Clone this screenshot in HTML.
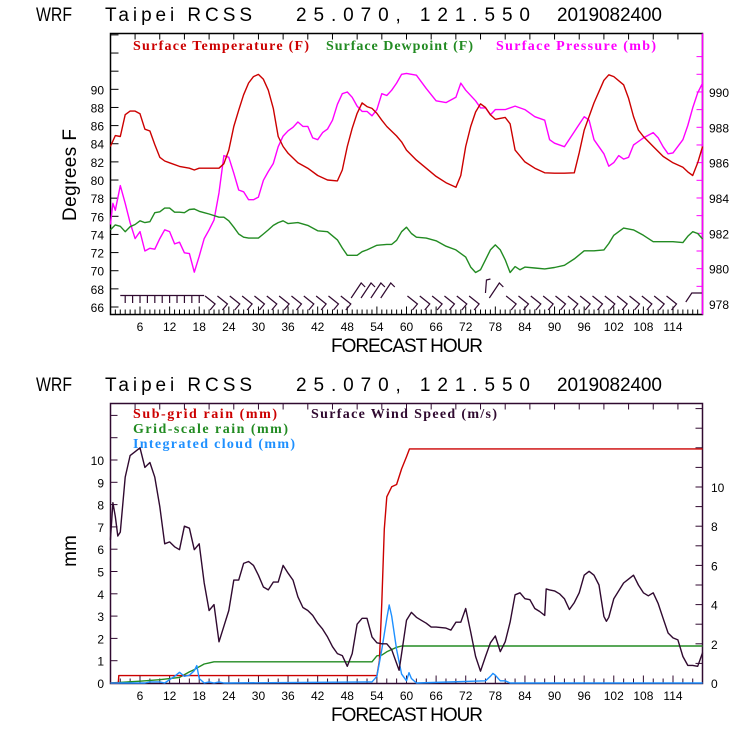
<!DOCTYPE html>
<html><head><meta charset="utf-8">
<style>
html,body{margin:0;padding:0;background:#fff;width:740px;height:740px;overflow:hidden}
svg{display:block}
.tk{font-family:"Liberation Sans",sans-serif;font-size:12px;fill:#000}
.ttl{font-family:"Liberation Sans",sans-serif;font-size:19px;fill:#000}
.lg{font-family:"Liberation Serif",serif;font-size:14px;font-weight:bold}
</style></head>
<body>
<svg id="chart" width="740" height="740" viewBox="0 0 740 740" xmlns="http://www.w3.org/2000/svg">
<text class="ttl" x="36" y="21" textLength="36" lengthAdjust="spacingAndGlyphs">WRF</text>
<text class="ttl" x="105" y="21" textLength="147">Taipei RCSS</text>
<text class="ttl" x="296" y="21" textLength="234">25.070, 121.550</text>
<text class="ttl" x="557" y="21" textLength="105">2019082400</text>
<text class="ttl" x="36" y="391" textLength="36" lengthAdjust="spacingAndGlyphs">WRF</text>
<text class="ttl" x="105" y="391" textLength="147">Taipei RCSS</text>
<text class="ttl" x="296" y="391" textLength="234">25.070, 121.550</text>
<text class="ttl" x="557" y="391" textLength="105">2019082400</text>
<text class="lg" x="133" y="50" fill="#cc0000" textLength="176">Surface Temperature (F)</text>
<text class="lg" x="326" y="50" fill="#228b22" textLength="147">Surface Dewpoint (F)</text>
<text class="lg" x="496" y="50" fill="#ff00ff" textLength="160">Surface Pressure (mb)</text>
<text class="lg" x="133" y="418" fill="#cc0000" textLength="144">Sub-grid rain (mm)</text>
<text class="lg" x="311" y="418" fill="#300a30" textLength="186">Surface Wind Speed (m/s)</text>
<text class="lg" x="133" y="433" fill="#228b22" textLength="155">Grid-scale rain (mm)</text>
<text class="lg" x="133" y="448" fill="#1e90ff" textLength="162">Integrated cloud (mm)</text>
<text class="ttl" x="407" y="352" text-anchor="middle" textLength="152">FORECAST HOUR</text>
<text class="ttl" x="407" y="721" text-anchor="middle" textLength="152">FORECAST HOUR</text>
<text class="ttl" transform="translate(76,175) rotate(-90)" text-anchor="middle" textLength="92">Degrees F</text>
<text class="ttl" transform="translate(76,551) rotate(-90)" text-anchor="middle">mm</text>
</svg>
<script>
// ---- data ----
const tempHours=[0,1,2,3,4,5,6,7,8,9,10,11,12,14,16,17,18,20,22,23,24,25,26,27,28,29,30,31,32,33,34,35,36,38,40,42,44,46,47,48,49,50,51,52,53,54,55,56,58,59,60,62,64,66,68,70,71,72,73,74,75,76,77,78,80,81,82,84,86,88,90,92,94,95,96,98,100,101,102,104,105,106,107,108,110,112,114,116,117,118,119,120];
const tempValues=[83.7,84.9,84.8,87.2,87.6,87.6,87.3,85.6,85.4,83.9,82.5,82.1,81.9,81.5,81.3,81.1,81.3,81.3,81.3,81.8,83.3,85.9,87.7,89.4,90.7,91.4,91.65,91.1,89.9,87.9,84.8,83.7,82.95,81.9,81.3,80.5,80.0,79.9,81.1,83.7,85.7,87.35,88.5,88.1,87.9,87.35,86.6,85.9,84.85,84.2,83.3,82.2,81.3,80.4,79.7,79.2,80.5,83.7,85.9,87.5,88.4,88.0,87.2,86.7,86.9,86.2,83.3,82.0,81.3,80.8,80.75,80.75,80.8,83.0,85.5,88.5,91.0,91.6,91.4,90.5,89.0,87.0,85.5,84.8,83.7,82.6,81.9,81.4,80.9,80.5,81.9,83.7];
const dewHours=[0,1,2,3,4,5,6,7,8,9,10,11,12,13,14,15,16,17,18,19,20,22,23,24,25,26,27,28,30,31,32,33,34,35,36,38,40,42,44,46,47,48,50,51,52,54,56,57,58,59,60,61,62,64,66,68,70,72,73,74,75,76,77,78,79,80,81,82,83,84,86,88,90,92,94,96,98,100,101,102,104,106,108,110,112,114,116,117,118,119,120];
const dewValues=[74.5,75.05,74.9,74.3,74.85,75.1,75.5,75.3,75.4,76.4,76.5,76.9,76.9,76.45,76.45,76.4,76.75,76.8,76.55,76.4,76.25,75.9,75.9,75.5,74.8,74.05,73.7,73.6,73.6,74.05,74.5,75.0,75.3,75.5,75.2,75.3,75.0,74.4,74.3,73.4,72.5,71.7,71.7,72.1,72.3,72.8,72.9,72.9,73.35,74.3,74.8,74.1,73.7,73.6,73.3,72.7,72.3,71.5,70.4,69.8,70.1,71.2,72.3,72.85,72.3,71.2,69.8,70.45,70.1,70.4,70.3,70.2,70.35,70.6,71.3,72.2,72.2,72.3,73.0,73.9,74.7,74.5,73.9,73.2,73.2,73.2,73.1,73.8,74.3,74.1,73.5];
const presHours=[0,0.5,1,2,3,4,5,6,7,8,9,10,11,12,13,14,15,16,17,18,19,20,21,22,23,24,25,26,27,28,29,30,31,32,33,34,35,36,37,38,39,40,41,42,43,44,45,46,47,48,49,50,51,52,53,54,55,56,57,58,59,60,61,62,64,66,68,70,71,72,74,75,76,77,78,80,82,84,86,88,89,90,92,94,96,97,98,100,101,102,103,104,105,106,108,110,111,112,113,114,116,117,118,119,120];
const presValues=[982.5,983.7,983.3,984.7,983.7,982.6,981.7,982.1,981.0,981.15,981.1,981.7,982.2,982.1,981.4,981.5,980.9,980.85,979.8,980.7,981.7,982.2,982.75,984.3,986.4,986.3,985.4,984.45,984.35,983.9,983.9,984.05,985.0,985.5,985.95,986.9,987.5,987.8,988.0,988.3,988.05,988.05,987.4,987.3,987.7,987.9,988.4,989.3,989.9,990.0,989.7,989.2,988.9,988.9,988.65,989.0,989.9,989.8,990.1,990.5,991.0,991.05,991.0,990.95,990.2,989.5,989.4,989.7,990.5,990.1,989.5,989.1,989.1,988.7,989.0,989.0,989.2,989.0,988.6,988.4,987.3,987.1,986.9,987.75,988.6,988.4,987.3,986.5,985.8,986.0,986.4,986.2,986.3,987.0,987.4,987.7,987.4,986.9,986.5,986.55,987.3,988.1,989.1,989.95,990.5];
const windHours=[0,0.5,1,1.5,2,3,4,5,6,7,8,9,10,11,12,13,14,15,16,17,18,19,20,21,22,23,24,25,26,27,28,29,30,31,32,33,34,35,36,37,38,39,40,41,42,43,44,45,46,47,48,49,50,51,52,53,54,55,56,57,58,58.5,59,60,61,62,63,64,65,66,68,69,70,71,72,73,74,75,76,77,78,79,80,81,82,83,84,85,86,87,88,88.3,89,90,91,92,93,94,95,96,97,98,99,100,100.5,101,102,103,104,105,106,107,108,109,110,111,112,113,114,115,116,117,118,119,120];
const windValues=[7.3,9.2,8.5,7.5,7.7,10.5,11.6,11.8,12.0,11.0,11.25,10.5,9.0,7.1,7.2,6.95,6.8,8.0,7.9,6.8,7.1,5.1,3.7,4.0,2.1,2.9,3.7,5.25,5.25,6.1,6.2,6.0,5.5,4.9,4.75,5.15,5.15,6.0,5.6,5.25,4.4,3.85,3.7,3.45,3.05,2.75,2.35,1.85,1.5,1.4,0.85,1.5,3.0,3.3,3.3,2.35,2.05,2.0,2.0,1.7,1.0,0.65,1.5,3.2,3.6,3.35,3.2,3.05,2.85,2.85,2.8,2.7,3.1,3.1,3.8,2.6,1.35,0.6,1.35,2.05,2.4,1.6,2.1,3.1,4.5,4.6,4.3,4.25,3.8,3.65,3.45,4.8,4.75,4.7,4.55,4.3,3.75,4.1,4.6,5.5,5.7,5.5,5.0,3.4,3.15,3.35,4.3,4.7,5.1,5.3,5.5,5.0,4.6,4.45,4.6,4.05,3.3,2.55,2.3,2.2,1.35,0.9,0.9,0.85,1.55];
const subHours=[0,1.6,1.7,54,54.5,55,55.5,56,57,58,59,60,60.6,120];
const subValues=[0,0,0.33,0.33,1.0,3.6,6.9,8.35,8.8,8.9,9.6,10.15,10.5,10.5];
const gridHours=[0,6,10,14,16,17,18,19,20,21,53,54,55,56,57,58,59,120];
const gridValues=[0,0.08,0.15,0.25,0.5,0.6,0.73,0.85,0.9,0.95,0.95,1.22,1.25,1.4,1.5,1.6,1.66,1.66];
const cloudHours=[0,7,8,10,11,12,13,14,15,16,17,17.5,18,19,20,21,22,23,52,53,54,55,56,56.5,57,58,59,60,60.5,61,62,76,77,77.5,78,79,80,81,120];
const cloudValues=[0,0,0.05,0.05,0,0.15,0.3,0.48,0.3,0.35,0.55,0.78,0.2,0,0.05,0,0.05,0,0.05,0.05,0.3,1.5,2.9,3.5,3.0,1.5,0.4,0.1,0.46,0.2,0,0.1,0.3,0.43,0.35,0.1,0.1,0,0];
const xTickLabels=[6,12,18,24,30,36,42,48,54,60,66,72,78,84,90,96,102,108,114];
const tempTickLabels=[66,68,70,72,74,76,78,80,82,84,86,88,90];
const presTickLabels=[978,980,982,984,986,988,990];
const mmTickLabels=[0,1,2,3,4,5,6,7,8,9,10];
const windTickLabels=[0,2,4,6,8,10];
const barbHours=[20,22.5,25,27.5,30,32.5,35,37.5,40,42.5,45,47.5,50,52,54,56,61,63.5,66,68.5,71,73.5,76,78,81,83.5,86,88.5,91,93.5,96,98.5,101,103.5,106,108.5,111,113.5,117];
const barbKind=[0,0,0,0,0,0,0,0,0,0,0,0,1,1,1,1,0,0,0,0,0,0,2,1,0,0,0,0,0,0,0,0,0,0,0,0,0,0,3];

// ---- axes ----
const X0=110.4, XS=4.935;
const x=h=>X0+XS*h;
const yT=v=>307-(v-66)*9.07;
const yP=v=>304-(v-978)*17.67;
const yMM=v=>683-(v)*22.3;
const yW=v=>683-(v)*19.6;
const NS="http://www.w3.org/2000/svg";
const svg=document.getElementById('chart');
function mk(tag,attrs,parent){const e=document.createElementNS(NS,tag);for(const k in attrs)e.setAttribute(k,attrs[k]);(parent||svg).appendChild(e);return e;}
function txt(s,attrs){const e=mk('text',attrs);e.textContent=s;return e;}

const TL=110.5,TR=702.5,TT=33.5,TB=314.5,BT=403.5,BB=683.5;
let f1=mk('rect',{x:TL,y:TT,width:TR-TL,height:TB-TT,fill:'none',stroke:'#000','stroke-width':1.5});


let f1r=mk('line',{x1:TR,y1:TT,x2:TR,y2:TB,stroke:'#ff00ff','stroke-width':1.5});


let f2=mk('rect',{x:TL,y:BT,width:TR-TL,height:BB-BT,fill:'none',stroke:'#300a30','stroke-width':1.5});



let tg=mk('g',{stroke:'#000','stroke-width':1});


for(let h=1;h<120;h++){const L=(h%6===0)?8:5;mk('line',{x1:x(h),y1:TB,x2:x(h),y2:TB-L},tg);}
for(let h=2;h<120;h+=2){const L=(h%6===0)?8:5;mk('line',{x1:x(h),y1:BB,x2:x(h),y2:BB-L,stroke:'#300a30'},tg);}
for(let h=5;h<120;h+=5){mk('line',{x1:x(h),y1:TT,x2:x(h),y2:TT+6},tg);mk('line',{x1:x(h),y1:BT,x2:x(h),y2:BT+6,stroke:'#300a30'},tg);}
for(let v=66;v<=96;v+=2){mk('line',{x1:TL,y1:yT(v),x2:TL+8,y2:yT(v)},tg);}
for(let v=979;v<=992;v++){mk('line',{x1:TR,y1:yP(v),x2:TR-6,y2:yP(v),stroke:'#ff00ff'},tg);}
for(let v=0;v<=12;v++){mk('line',{x1:TL,y1:yMM(v),x2:TL+7,y2:yMM(v),stroke:'#300a30'},tg);}
for(let v=0;v<=14;v++){mk('line',{x1:TR,y1:yW(v),x2:TR-7,y2:yW(v),stroke:'#300a30'},tg);}

xTickLabels.forEach(h=>{
 let a=txt(String(h),{class:'tk',x:x(h),y:331,'text-anchor':'middle'});
 
 
 let b=txt(String(h),{class:'tk',x:x(h),y:700,'text-anchor':'middle'});
 
 
});
tempTickLabels.forEach(v=>{
 let a=txt(String(v),{class:'tk',x:104,y:yT(v)+5,'text-anchor':'end'});
 
 
});
presTickLabels.forEach(v=>{
 let a=txt(String(v),{class:'tk',x:709,y:yP(v)+5});
 
 
});
mmTickLabels.forEach(v=>{
 let a=txt(String(v),{class:'tk',x:104,y:yMM(v)+5,'text-anchor':'end'});
 
 
});
windTickLabels.forEach(v=>{
 let a=txt(String(v),{class:'tk',x:711,y:yW(v)+5});
 
 
});

function line(hs,vs,yf,color,name){
 const pts=hs.map((h,i)=>x(h).toFixed(1)+','+yf(vs[i]).toFixed(1)).join(' ');
 const p=mk('polyline',{points:pts,fill:'none',stroke:color,'stroke-width':1.4,'stroke-linejoin':'round'});
 
 
}
line(presHours,presValues,yP,'#ff00ff','pressure-line');
line(dewHours,dewValues,yT,'#228b22','dewpoint-line');
line(tempHours,tempValues,yT,'#cc0000','temperature-line');
line(gridHours,gridValues,yMM,'#228b22','gridscale-rain-line');
line(subHours,subValues,yMM,'#cc0000','subgrid-rain-line');
line(cloudHours,cloudValues,yMM,'#1e90ff','integrated-cloud-line');
line(windHours,windValues,yW,'#300a30','wind-speed-line');

// wind barbs
let bg=mk('g',{stroke:'#300a30','stroke-width':1.2,fill:'none'});


mk('line',{x1:x(2),y1:295.5,x2:x(19),y2:295.5},bg);
for(let h=3;h<=19;h+=1.5){mk('line',{x1:x(h),y1:296,x2:x(h),y2:303},bg);}
barbHours.forEach((h,i)=>{
 const bx=x(h), k=barbKind[i];
 const g=mk('g',{},bg);
 
 
 if(k===0){
  mk('polyline',{points:`${bx-4},${296} ${bx+6},${304} ${bx+1},${310}`},g);
 }else if(k===1){
  mk('polyline',{points:`${bx-6},${298} ${bx+4},${283} ${bx+8},${287}`},g);
 }else if(k===2){
  mk('polyline',{points:`${bx},${293} ${bx+1},${280} ${bx+5},${279}`},g);
 }else{
  mk('polyline',{points:`${bx-2},${302} ${bx+4},${293} ${bx+14},${293}`},g);
 }
});
</script>
</body></html>
